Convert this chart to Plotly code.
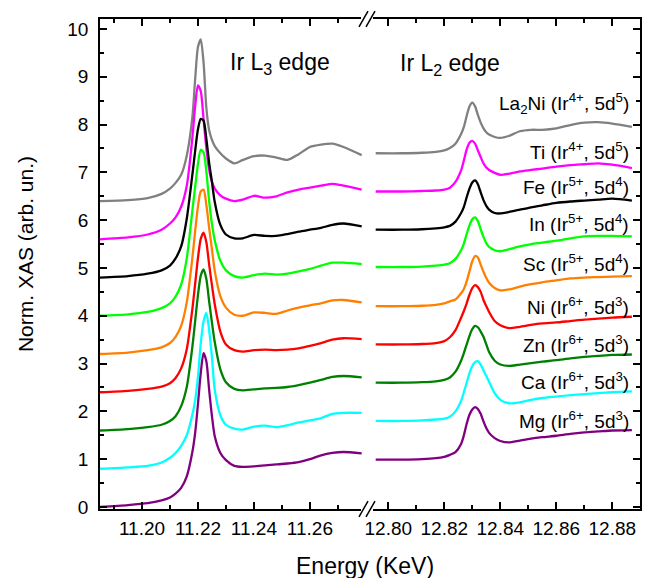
import plotly.graph_objects as go

# ---------------- data ----------------
names = ["La2Ni", "Ti", "Fe", "In", "Sc", "Ni", "Zn", "Ca", "Mg"]
labels = [
    "La<sub>2</sub>Ni (Ir<sup>4+</sup>, 5d<sup>5</sup>)",
    "Ti (Ir<sup>4+</sup>, 5d<sup>5</sup>)",
    "Fe (Ir<sup>5+</sup>, 5d<sup>4</sup>)",
    "In (Ir<sup>5+</sup>, 5d<sup>4</sup>)",
    "Sc (Ir<sup>5+</sup>, 5d<sup>4</sup>)",
    "Ni (Ir<sup>6+</sup>, 5d<sup>3</sup>)",
    "Zn (Ir<sup>6+</sup>, 5d<sup>3</sup>)",
    "Ca (Ir<sup>6+</sup>, 5d<sup>3</sup>)",
    "Mg (Ir<sup>6+</sup>, 5d<sup>3</sup>)",
]
label_y = [8.44, 7.44, 6.71, 5.94, 5.10, 4.21, 3.41, 2.63, 1.83]
colors = ["#808080", "#ff00ff", "#000000", "#00ff00", "#ff8000",
          "#ff0000", "#008000", "#00ffff", "#800080"]

x_ticks_L3 = [11.20, 11.22, 11.24, 11.26]
x_minor_L3 = [11.19, 11.21, 11.23, 11.25, 11.27]
x_ticks_L2 = [12.80, 12.82, 12.84, 12.86, 12.88]
x_minor_L2 = [12.81, 12.83, 12.85, 12.87]

# Ir L3 edge energies (keV)
E_L3 = [11.185, 11.195, 11.202, 11.207, 11.210, 11.212, 11.214, 11.216, 11.218,
        11.219, 11.220, 11.221, 11.222, 11.223, 11.224, 11.225, 11.226, 11.228,
        11.230, 11.233, 11.236, 11.240, 11.244, 11.248, 11.252, 11.256, 11.260,
        11.264, 11.268, 11.272, 11.2785]

L3_La2Ni = [6.40, 6.42, 6.46, 6.55, 6.66, 6.78, 6.95, 7.35, 8.15, 8.95, 9.62, 9.78, 9.30,
            8.35, 7.88, 7.68, 7.55, 7.40, 7.29, 7.19, 7.26, 7.34, 7.35, 7.31, 7.26, 7.38,
            7.53, 7.58, 7.60, 7.53, 7.36]
L3_Ti = [5.60, 5.64, 5.70, 5.80, 5.93, 6.06, 6.28, 6.72, 7.72, 8.38, 8.82, 8.70, 8.12,
         7.50, 7.05, 6.80, 6.66, 6.52, 6.45, 6.40, 6.43, 6.51, 6.47, 6.50, 6.58, 6.64,
         6.68, 6.72, 6.76, 6.72, 6.64]
L3_Fe = [4.80, 4.83, 4.88, 4.95, 5.05, 5.20, 5.45, 6.03, 6.95, 7.45, 7.90, 8.12, 8.08,
         7.70, 7.20, 6.80, 6.38, 5.90, 5.70, 5.62, 5.62, 5.69, 5.67, 5.67, 5.71, 5.76,
         5.80, 5.84, 5.90, 5.93, 5.87]
L3_In = [4.00, 4.03, 4.08, 4.16, 4.26, 4.40, 4.65, 5.20, 6.20, 6.70, 7.18, 7.47, 7.42,
         7.02, 6.40, 5.92, 5.58, 5.15, 4.95, 4.83, 4.80, 4.85, 4.88, 4.86, 4.88, 4.93,
         4.98, 5.05, 5.11, 5.11, 5.08]
L3_Sc = [3.20, 3.23, 3.28, 3.34, 3.43, 3.56, 3.79, 4.28, 5.21, 5.77, 6.29, 6.60, 6.64,
         6.32, 5.84, 5.39, 4.94, 4.41, 4.17, 4.02, 4.00, 4.07, 4.06, 4.04, 4.11, 4.17,
         4.22, 4.26, 4.32, 4.33, 4.28]
L3_Ni = [2.40, 2.43, 2.47, 2.52, 2.59, 2.70, 2.90, 3.30, 4.14, 4.67, 5.21, 5.61, 5.74,
         5.54, 5.07, 4.64, 4.24, 3.67, 3.40, 3.28, 3.25, 3.28, 3.29, 3.28, 3.29, 3.32,
         3.37, 3.43, 3.50, 3.53, 3.51]
L3_Zn = [1.60, 1.63, 1.67, 1.72, 1.80, 1.90, 2.11, 2.51, 3.35, 3.89, 4.43, 4.84, 4.97,
         4.77, 4.30, 3.86, 3.45, 2.88, 2.61, 2.47, 2.44, 2.46, 2.48, 2.49, 2.51, 2.55,
         2.60, 2.66, 2.72, 2.74, 2.71]
L3_Ca = [0.80, 0.83, 0.86, 0.93, 1.03, 1.13, 1.28, 1.50, 1.93, 2.23, 2.72, 3.42, 3.88,
         4.06, 3.70, 3.13, 2.45, 1.92, 1.72, 1.64, 1.62, 1.68, 1.70, 1.67, 1.71, 1.77,
         1.81, 1.86, 1.95, 1.97, 1.97]
L3_Mg = [0.00, 0.04, 0.08, 0.14, 0.20, 0.28, 0.40, 0.64, 1.15, 1.55, 2.15, 2.80, 3.22,
         3.05, 2.45, 1.90, 1.48, 1.13, 0.98, 0.86, 0.84, 0.85, 0.87, 0.89, 0.91, 0.94,
         1.00, 1.08, 1.13, 1.15, 1.12]

# Ir L2 edge energies (keV)
E_L2 = [12.7955, 12.805, 12.812, 12.817, 12.820, 12.822, 12.824, 12.826, 12.827, 12.828,
        12.829, 12.830, 12.831, 12.832, 12.833, 12.834, 12.835, 12.836, 12.838, 12.840,
        12.843, 12.847, 12.851, 12.855, 12.860, 12.865, 12.870, 12.875, 12.880, 12.887]

L2_La2Ni = [7.40, 7.40, 7.41, 7.43, 7.46, 7.51, 7.60, 7.80, 7.95, 8.18, 8.38, 8.46, 8.38,
            8.20, 8.04, 7.92, 7.84, 7.79, 7.74, 7.72, 7.76, 7.86, 7.89, 7.89, 7.92, 7.99,
            8.04, 8.05, 8.02, 7.95]
L2_Ti = [6.60, 6.60, 6.61, 6.62, 6.64, 6.68, 6.80, 7.04, 7.25, 7.48, 7.62, 7.66, 7.60,
         7.46, 7.32, 7.19, 7.10, 7.05, 6.99, 6.95, 6.97, 7.02, 7.05, 7.08, 7.12, 7.15,
         7.17, 7.19, 7.16, 7.09]
L2_Fe = [5.80, 5.80, 5.81, 5.83, 5.85, 5.88, 5.97, 6.15, 6.28, 6.48, 6.66, 6.79, 6.83,
         6.75, 6.58, 6.42, 6.30, 6.22, 6.15, 6.14, 6.17, 6.22, 6.27, 6.31, 6.36, 6.39,
         6.41, 6.43, 6.45, 6.41]
L2_In = [5.02, 5.02, 5.03, 5.05, 5.07, 5.10, 5.19, 5.37, 5.51, 5.71, 5.89, 6.02, 6.06,
         5.98, 5.81, 5.65, 5.52, 5.44, 5.37, 5.35, 5.39, 5.45, 5.50, 5.53, 5.57, 5.62,
         5.66, 5.67, 5.67, 5.66]
L2_Sc = [4.20, 4.20, 4.21, 4.23, 4.26, 4.30, 4.34, 4.47, 4.56, 4.72, 4.93, 5.14, 5.25,
         5.22, 5.07, 4.92, 4.79, 4.69, 4.58, 4.53, 4.55, 4.61, 4.66, 4.70, 4.74, 4.78,
         4.80, 4.81, 4.82, 4.83]
L2_Ni = [3.40, 3.40, 3.41, 3.43, 3.47, 3.55, 3.70, 3.96, 4.10, 4.26, 4.44, 4.58, 4.64,
         4.60, 4.50, 4.33, 4.20, 4.08, 3.89, 3.80, 3.74, 3.77, 3.81, 3.84, 3.86, 3.89,
         3.92, 3.94, 3.96, 3.98]
L2_Zn = [2.60, 2.60, 2.61, 2.63, 2.66, 2.71, 2.83, 3.06, 3.22, 3.40, 3.58, 3.72, 3.79,
         3.76, 3.67, 3.56, 3.40, 3.24, 3.06, 2.98, 2.95, 2.98, 3.01, 3.04, 3.07, 3.11,
         3.14, 3.16, 3.18, 3.19]
L2_Ca = [1.80, 1.80, 1.81, 1.83, 1.85, 1.89, 2.00, 2.22, 2.40, 2.60, 2.80, 2.95, 3.03,
         3.05, 2.98, 2.86, 2.74, 2.62, 2.38, 2.24, 2.17, 2.19, 2.24, 2.28, 2.31, 2.34,
         2.36, 2.38, 2.40, 2.42]
L2_Mg = [0.99, 0.99, 1.00, 1.02, 1.05, 1.09, 1.15, 1.32, 1.50, 1.74, 1.93, 2.04, 2.09,
         2.05, 1.95, 1.79, 1.65, 1.55, 1.44, 1.38, 1.35, 1.39, 1.43, 1.46, 1.49, 1.53,
         1.56, 1.58, 1.60, 1.61]

L3_series = [L3_La2Ni, L3_Ti, L3_Fe, L3_In, L3_Sc, L3_Ni, L3_Zn, L3_Ca, L3_Mg]
L2_series = [L2_La2Ni, L2_Ti, L2_Fe, L2_In, L2_Sc, L2_Ni, L2_Zn, L2_Ca, L2_Mg]

# ---------------- figure ----------------
FONT = "Liberation Sans, Arial, sans-serif"
fig = go.Figure()

for name, col, y3, y2 in zip(names, colors, L3_series, L2_series):
    fig.add_trace(go.Scatter(x=E_L3, y=y3, mode="lines", name=name,
                             line=dict(color=col, width=2.3, shape="spline", smoothing=0.7),
                             xaxis="x", yaxis="y", showlegend=False))
    fig.add_trace(go.Scatter(x=E_L2, y=y2, mode="lines", name=name,
                             line=dict(color=col, width=2.3, shape="spline", smoothing=0.7),
                             xaxis="x2", yaxis="y2", showlegend=False))

# the page body has an 8 px margin; size the figure so the plot lands where intended
OFF = 8
W, H = 650 - OFF, 578 - OFF
ML, MR, MT, MB = 100 - OFF, 10, 17 - OFF, 69
PW, PH = W - ML - MR, H - MT - MB
BREAK_PX = 367           # window pixel of the axis break
split = (BREAK_PX - OFF - ML) / PW

axis_common = dict(showline=True, linecolor="black", linewidth=1.5,
                   ticks="inside", tickcolor="black", tickwidth=1.5, ticklen=7,
                   showgrid=False, zeroline=False,
                   tickfont=dict(family=FONT, size=19, color="black"))
minor_common = dict(ticks="inside", ticklen=4, tickwidth=1.5, tickcolor="black",
                    showgrid=False)

fig.update_layout(
    width=W, height=H,
    margin=dict(l=ML, r=MR, t=MT, b=MB),
    paper_bgcolor="white", plot_bgcolor="white",
    xaxis=dict(domain=[0, split], range=[11.185, 11.2804], anchor="y",
               tickmode="array", tickvals=x_ticks_L3,
               ticktext=[f"{v:.2f}" for v in x_ticks_L3],
               mirror="ticks", ticklabelstandoff=1,
               minor=dict(tickmode="array", tickvals=x_minor_L3, **minor_common),
               **axis_common),
    xaxis2=dict(domain=[split, 1], range=[12.7924, 12.8899], anchor="y2",
                tickmode="array", tickvals=x_ticks_L2,
                ticktext=[f"{v:.2f}" for v in x_ticks_L2],
                mirror="ticks", ticklabelstandoff=1,
                minor=dict(tickmode="array", tickvals=x_minor_L2, **minor_common),
                **axis_common),
    yaxis=dict(domain=[0, 1], range=[-0.042, 10.208], anchor="x", side="left",
               tickmode="linear", tick0=0, dtick=1, ticklabelstandoff=6,
               minor=dict(dtick=0.5, **minor_common),
               **axis_common),
    yaxis2=dict(domain=[0, 1], matches="y", anchor="x2", side="right",
                tickmode="linear", tick0=0, dtick=1, showticklabels=False,
                minor=dict(dtick=0.5, **minor_common),
                **axis_common),
)


def px2paper(px, py):
    """window pixel -> paper coordinates"""
    return (px - OFF - ML) / PW, 1 - (py - OFF - MT) / PH


# axis titles
tx, ty = px2paper(365, 566)
fig.add_annotation(text="Energy (KeV)", xref="paper", yref="paper", x=tx, y=ty,
                   showarrow=False, xanchor="center", yanchor="middle",
                   font=dict(family=FONT, size=23, color="black"))
vx, vy = px2paper(25, 253)
fig.add_annotation(text="Norm. XAS (arb. un.)", xref="paper", yref="paper", x=vx, y=vy,
                   textangle=-90, showarrow=False, xanchor="center", yanchor="middle",
                   font=dict(family=FONT, size=21, color="black"))

# edge titles
fig.add_annotation(text="Ir L<sub>3</sub> edge", xref="x", yref="y", x=11.2307, y=9.27,
                   showarrow=False, xanchor="left", yanchor="middle",
                   font=dict(family=FONT, size=23, color="black"))
fig.add_annotation(text="Ir L<sub>2</sub> edge", xref="x2", yref="y2", x=12.8035, y=9.25,
                   showarrow=False, xanchor="left", yanchor="middle",
                   font=dict(family=FONT, size=23, color="black"))

# sample labels
for lab, ly in zip(labels, label_y):
    fig.add_annotation(text=lab, xref="x2", yref="y2", x=12.8866, y=ly,
                       showarrow=False, xanchor="right", yanchor="middle",
                       font=dict(family=FONT, size=19, color="black"))

# axis-break marks "//"
shapes = []
for y0 in (17, 509):
    x_a, y_a = px2paper(361, y0 - 2.5)
    x_b, y_b = px2paper(373, y0 + 2.5)
    shapes.append(dict(type="rect", xref="paper", yref="paper", x0=x_a, x1=x_b,
                       y0=y_b, y1=y_a, fillcolor="white", line=dict(width=0),
                       layer="above"))
    for dx in (0, 7):
        x1, y1 = px2paper(359 + dx, y0 + 8)
        x2, y2 = px2paper(368 + dx, y0 - 8)
        shapes.append(dict(type="line", xref="paper", yref="paper",
                           x0=x1, y0=y1, x1=x2, y1=y2,
                           line=dict(color="black", width=1.5), layer="above"))
fig.update_layout(shapes=shapes)

fig.write_html("out.html")
